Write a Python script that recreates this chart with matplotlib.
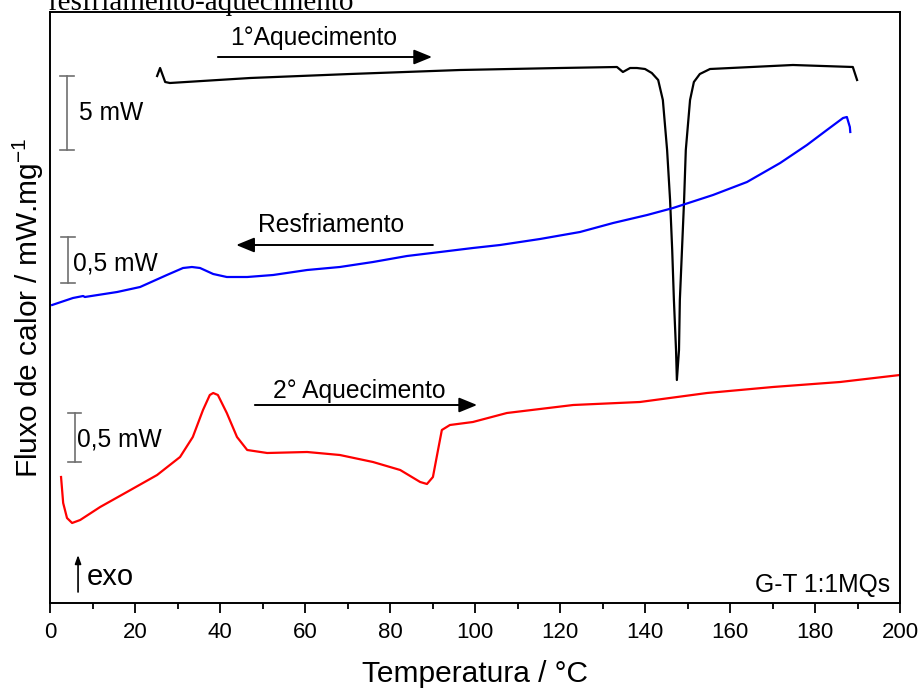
import matplotlib
matplotlib.use("Agg")
import matplotlib.pyplot as plt

plt.rcParams['font.family'] = ['Liberation Sans', 'DejaVu Sans']
plt.rcParams['mathtext.fontset'] = 'custom'
plt.rcParams['mathtext.rm'] = 'Liberation Sans'
plt.rcParams['mathtext.it'] = 'Liberation Sans'

# DSC curves (heat flow in arbitrary, offset units; exo up)
temp_heat1 = [25.2, 25.9, 27.1, 28.2, 47.1, 70.6, 96.5, 120.0, 133.4, 134.8, 136.5,
              138.1, 140.0, 141.6, 143.1, 144.2, 145.2, 145.9, 146.4, 146.8, 147.3,
              147.5, 148.0, 148.2, 148.7, 149.2, 149.6, 150.6, 151.5, 152.9, 155.3,
              174.8, 188.9, 189.9]
flow_heat1 = [527, 535, 521, 520, 525, 529, 533, 535, 536, 531, 535,
              535, 534, 530, 523, 503, 453, 403, 353, 303, 253,
              223, 253, 303, 353, 403, 453, 503, 521, 529, 534,
              538, 536, 523]

temp_cool = [0.5, 5.4, 7.8, 8.2, 15.8, 21.2, 27.5, 31.3, 33.4, 35.3, 38.4, 41.6,
             46.4, 52.5, 60.5, 68.2, 76.0, 84.0, 91.8, 99.5, 105.9, 115.3, 124.7,
             132.5, 140.5, 146.6, 156.0, 164.0, 171.8, 178.1, 182.8, 186.6, 187.5,
             188.2, 188.3]
flow_cool = [298, 305, 307, 306, 311, 316, 328, 335, 336, 335, 329, 326,
             326, 328, 333, 336, 341, 347, 351, 355, 358, 364, 371,
             380, 388, 395, 408, 421, 440, 458, 473, 485, 486,
             476, 471]

temp_heat2 = [2.6, 3.1, 4.0, 5.2, 7.1, 11.8, 18.1, 25.2, 30.6, 33.6, 36.0, 37.6,
              38.4, 39.5, 41.6, 44.0, 46.4, 51.1, 60.5, 68.2, 76.0, 82.4, 87.1,
              88.7, 90.1, 91.3, 92.2, 94.1, 99.5, 107.5, 123.1, 138.8, 154.6,
              170.1, 185.9, 200.0]
flow_heat2 = [126, 100, 85, 80, 83, 96, 111, 128, 146, 166, 193, 208,
              210, 208, 190, 166, 153, 150, 151, 148, 141, 133, 121,
              119, 126, 153, 173, 178, 181, 190, 198, 201, 210,
              216, 221, 228]

x_ticks = [0, 20, 40, 60, 80, 100, 120, 140, 160, 180, 200]

fig = plt.figure(figsize=(9.21, 6.91), dpi=100)
ax = fig.add_axes([50 / 921, 88 / 691, 850 / 921, 591 / 691])

ax.plot(temp_heat1, flow_heat1, color='black', lw=1.6, solid_joinstyle='round')
ax.plot(temp_cool, flow_cool, color='#0000ff', lw=1.6, solid_joinstyle='round')
ax.plot(temp_heat2, flow_heat2, color='#ff0000', lw=1.6, solid_joinstyle='round')

ax.set_xlim(0, 200)
ax.set_ylim(0, 591)
ax.set_xticks(x_ticks)
ax.set_xticks(range(10, 200, 20), minor=True)
ax.set_yticks([])
ax.tick_params(axis='x', which='major', direction='out', length=7, width=1.3,
               labelsize=16, pad=7)
ax.tick_params(axis='x', which='minor', direction='out', length=4, width=1.3)
for s in ax.spines.values():
    s.set_linewidth(1.4)

ax.set_xlabel('Temperatura / °C', fontsize=21.5)
ax.xaxis.set_label_coords(0.5, -0.097)
ax.set_ylabel('Fluxo de calor / mW.mg$^{-1}$', fontsize=21.5)
ax.yaxis.set_label_coords(-0.0047, 0.5)

# scale bars
def scale_bar(x, y0, y1, half=1.6):
    kw = dict(color='#707070', lw=1.2)
    ax.plot([x, x], [y0, y1], **kw)
    ax.plot([x - half, x + half], [y0, y0], **kw)
    ax.plot([x - half, x + half], [y1, y1], **kw)

scale_bar(4.0, 453, 527)
scale_bar(4.2, 320, 366)
scale_bar(5.8, 141, 190)

fs = 17.7
ax.text(6.8, 483, '5 mW', fontsize=fs, va='baseline')
ax.text(5.4, 333, '0,5 mW', fontsize=fs, va='baseline')
ax.text(6.4, 156, '0,5 mW', fontsize=fs, va='baseline')
ax.text(42.4, 558, '1°Aquecimento', fontsize=fs, va='baseline')
ax.text(48.9, 371, 'Resfriamento', fontsize=fs, va='baseline')
ax.text(52.5, 205, '2° Aquecimento', fontsize=fs, va='baseline')
ax.text(8.7, 18, 'exo', fontsize=21, va='baseline')
ax.text(197.6, 11, 'G-T 1:1MQs', fontsize=fs, va='baseline', ha='right')

arrow = dict(arrowstyle='-|>,head_length=1.1,head_width=0.45', color='black',
             lw=1.4, shrinkA=0, shrinkB=0)
ax.annotate('', xy=(89.9, 546), xytext=(39.5, 546), arrowprops=arrow)
ax.annotate('', xy=(43.8, 358), xytext=(90.1, 358), arrowprops=arrow)
ax.annotate('', xy=(100.5, 198), xytext=(48.2, 198), arrowprops=arrow)
ax.annotate('', xy=(6.6, 48), xytext=(6.6, 11),
            arrowprops=dict(arrowstyle='-|>,head_length=0.5,head_width=0.18',
                            color='black', lw=1.2, shrinkA=0, shrinkB=0))

fig.text(48 / 921, 1 - 10 / 691, 'resfriamento-aquecimento',
         family='Liberation Serif', fontsize=21, va='baseline', ha='left')

fig.savefig('out.png', dpi=100)
